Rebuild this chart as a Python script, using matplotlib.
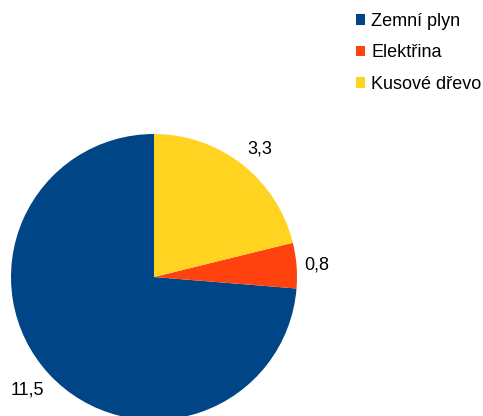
import matplotlib
matplotlib.use("Agg")
import matplotlib.pyplot as plt
import numpy as np
from matplotlib.patches import Patch

plt.rcParams["font.family"] = ["Liberation Sans", "DejaVu Sans"]

categories = ["Zemní plyn", "Elektřina", "Kusové dřevo"]
values = [11.5, 0.8, 3.3]
labels = ["11,5", "0,8", "3,3"]
colors = ["#004586", "#ff420e", "#ffd320"]
label_r = [1.19, 1.14, 1.165]
label_dang = [-1.0, -0.5, -1.5]  # small angular nudges in degrees

fig = plt.figure(figsize=(4.83, 4.16), dpi=100)
W, H = 483, 416
cx, cy, r = 154, 277, 143
ax = fig.add_axes([(cx - r) / W, (H - cy - r) / H, 2 * r / W, 2 * r / H])

wedges, _ = ax.pie(values, colors=colors, startangle=90, counterclock=True,
                   wedgeprops=dict(linewidth=0))
ax.set_xlim(-1, 1); ax.set_ylim(-1, 1)
ax.set_aspect("equal")
ax.axis("off")

for w, lab, lr, da in zip(wedges, labels, label_r, label_dang):
    mid = np.deg2rad((w.theta1 + w.theta2) / 2 + da)
    ax.text(lr * np.cos(mid), lr * np.sin(mid), lab, ha="center", va="center",
            fontsize=13, color="#000000", clip_on=False)

handles = [Patch(facecolor=c, edgecolor="none") for c in colors]
fig.legend(handles, categories, loc="upper left", bbox_to_anchor=(347 / W, 1 - 4 / H),
           frameon=False, fontsize=13, handlelength=0.5, handleheight=0.5,
           handletextpad=0.35, labelspacing=0.8, borderpad=0)

fig.savefig("out.png", dpi=100)
